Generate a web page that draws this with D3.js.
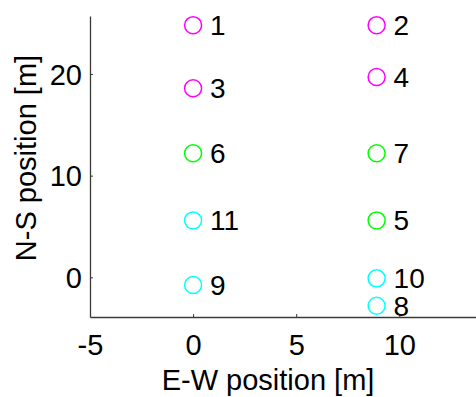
<!DOCTYPE html>
<html>
<head>
<meta charset="utf-8">
<script src="https://cdn.jsdelivr.net/npm/d3@7"></script>
<style>
  html, body { margin: 0; padding: 0; background: #fff; }
  text { font-family: "Liberation Sans", Arial, Helvetica, sans-serif; fill: #000; }
</style>
</head>
<body>
<svg id="chart" width="476" height="397"></svg>
<script>
// sensor positions
const ids = ["1", "2", "3", "4", "6", "7", "11", "5", "9", "10", "8"];
const xs  = [0, 8.9, 0, 8.9, 0, 8.9, 0, 8.9, 0, 8.9, 8.9];
const ys  = [24.8, 24.8, 18.6, 19.7, 12.2, 12.2, 5.6, 5.6, -0.75, -0.1, -2.8];
const groups = ["m", "m", "m", "m", "g", "g", "c", "g", "c", "c", "c"];

const xTicks = [-5, 0, 5, 10];
const yTicks = [0, 10, 20];

const colors = { m: "#ff00ff", g: "#00ff00", c: "#00ffff" };

const grid = { top: 16, left: 90, bottom: 317 };

const svg = d3.select("#chart");

// x reaches past the right edge, the picture is cut there
const x = d3.scaleLinear().domain([-5, 15]).range([grid.left, grid.left + 20 * 20.62]);
const y = d3.scaleLinear().domain([-3.9, 25.7]).range([grid.bottom, grid.top]);

// plain hyphen for negatives, like the original
const fmt = d => String(d);

const xAxis = d3.axisBottom(x)
    .tickValues(xTicks)
    .tickFormat(fmt)
    .tickSizeInner(-3)
    .tickSizeOuter(0)
    .tickPadding(17);

const yAxis = d3.axisLeft(y)
    .tickValues(yTicks)
    .tickFormat(fmt)
    .tickSizeInner(-3)
    .tickSizeOuter(0)
    .tickPadding(8);

const gx = svg.append("g")
    .attr("transform", `translate(0,${grid.bottom})`)
    .call(xAxis);

const gy = svg.append("g")
    .attr("transform", `translate(${grid.left},0)`)
    .call(yAxis);

[gx, gy].forEach(g => {
    g.select(".domain").attr("stroke", "#3a3a3a").attr("stroke-width", 1.3);
    g.selectAll(".tick line").attr("stroke", "#3a3a3a").attr("stroke-width", 1);
    g.selectAll(".tick text")
        .attr("fill", "#000")
        .style("font-size", "29px")
        .style("font-family", "'Liberation Sans', Arial, sans-serif");
});
gx.selectAll(".tick text").attr("dy", "0.71em");
gy.selectAll(".tick text").attr("dy", "0.35em");

// axis titles
svg.append("text")
    .attr("x", 268)
    .attr("y", 390)
    .attr("text-anchor", "middle")
    .style("font-size", "29px")
    .text("E-W position [m]");

svg.append("text")
    .attr("transform", "translate(36,158) rotate(-90)")
    .attr("text-anchor", "middle")
    .style("font-size", "29px")
    .text("N-S position [m]");

// markers
const pts = ids.map((id, i) => ({ id: id, x: xs[i], y: ys[i], g: groups[i] }));

svg.append("g").selectAll("circle")
    .data(pts)
    .enter().append("circle")
    .attr("cx", d => x(d.x))
    .attr("cy", d => y(d.y))
    .attr("r", 8.5)
    .attr("fill", "none")
    .attr("stroke", d => colors[d.g])
    .attr("stroke-width", 1.5);

svg.append("g").selectAll("text")
    .data(pts)
    .enter().append("text")
    .attr("x", d => x(d.x) + 17)
    .attr("y", d => y(d.y))
    .attr("dy", "0.36em")
    .style("font-size", "28px")
    .text(d => d.id);
</script>
</body>
</html>
